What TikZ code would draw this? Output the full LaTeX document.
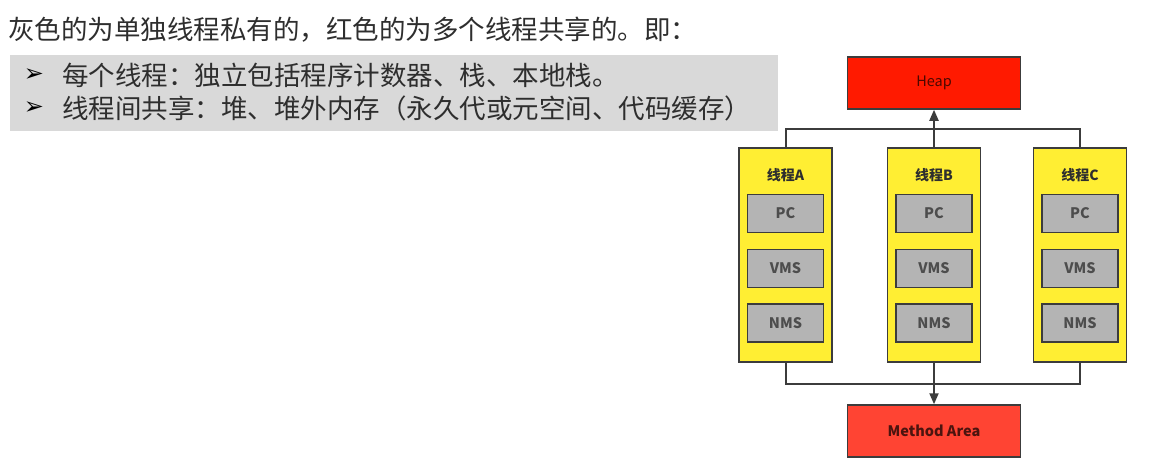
\documentclass[tikz,border=0pt]{standalone}
\usepackage{fontspec}
\usetikzlibrary{arrows.meta}
\setmainfont{Noto Sans CJK SC}
\newfontfamily\djv{DejaVu Sans}
\definecolor{boxgray}{HTML}{D9D9D9}
\definecolor{heapred}{HTML}{FF1A00}
\definecolor{methred}{HTML}{FF4433}
\definecolor{thyellow}{HTML}{FFEE33}
\definecolor{ingray}{HTML}{B4B4B4}
\definecolor{edge}{HTML}{3C3C3C}
\definecolor{txt}{HTML}{2E2E2E}
\tikzset{
  thread/.style={draw=edge, line width=1.5pt, fill=thyellow, minimum width=93pt, minimum height=214pt, inner sep=0pt},
  part/.style={draw=edge, line width=1.5pt, fill=ingray, minimum width=76pt, minimum height=38pt, inner sep=0pt, font=\fontsize{14.5}{16}\selectfont\bfseries, text=txt!85},
  shared/.style={draw=edge, line width=1.5pt, minimum width=173pt, minimum height=52pt, inner sep=0pt},
  tlabel/.style={font=\fontsize{14}{16}\selectfont\bfseries, text=txt, inner sep=0pt},
  conn/.style={draw=edge, line width=2pt},
  arr/.style={conn, -{Triangle[length=11pt,width=9pt]}},
  bigtext/.style={font=\fontsize{26.5}{30}\selectfont, text=txt, anchor=west, inner sep=0pt},
  bullet/.style={font=\djv\bfseries\fontsize{24}{26}\selectfont, text=black, inner sep=0pt}
}
\begin{document}
\begin{tikzpicture}[x=1pt,y=-1pt]
\useasboundingbox (0,0) rectangle (1170,466);
% heading
\node[bigtext] (title) at (8,30) {灰色的为单独线程私有的，红色的为多个线程共享的。即：};
\node[fill=boxgray, minimum width=768pt, minimum height=76pt, inner sep=0pt, anchor=north west] (gbox) at (10,55) {};
\node[bullet] (b1) at (34,75) {➢};
\node[bigtext] (l1) at (62,75) {每个线程：独立包括程序计数器、栈、本地栈。};
\node[bullet] (b2) at (34,108) {➢};
\node[bigtext] (l2) at (62,108) {线程间共享：堆、堆外内存（永久代或元空间、代码缓存）};
% shared areas
\node[shared, fill=heapred, font=\fontsize{14.5}{16}\selectfont, text=black!70!heapred] (heap) at (934,83) {Heap};
\node[shared, fill=methred, font=\fontsize{14.5}{16}\selectfont\bfseries, text=black!70!methred] (meth) at (934,431) {Method Area};
% threads
\foreach \n/\x/\l in {A/785.5/线程A, B/934/线程B, C/1080/线程C}{
  \node[thread] (t\n) at (\x,255) {};
  \node[tlabel] (lab\n) at (\x,175) {\l};
  \node[part] (pc\n) at (\x,213.5) {PC};
  \node[part] (vms\n) at (\x,268.5) {VMS};
  \node[part] (nms\n) at (\x,323) {NMS};
}
% connectors
\coordinate (topbar) at (934,129);
\coordinate (botbar) at (934,384);
\draw[conn] (tA.north) |- (topbar) -| (tC.north);
\draw[arr] (tB.north) -- (heap.south);
\draw[conn] (tA.south) |- (botbar) -| (tC.south);
\draw[arr] (tB.south) -- (meth.north);
\end{tikzpicture}
\end{document}
